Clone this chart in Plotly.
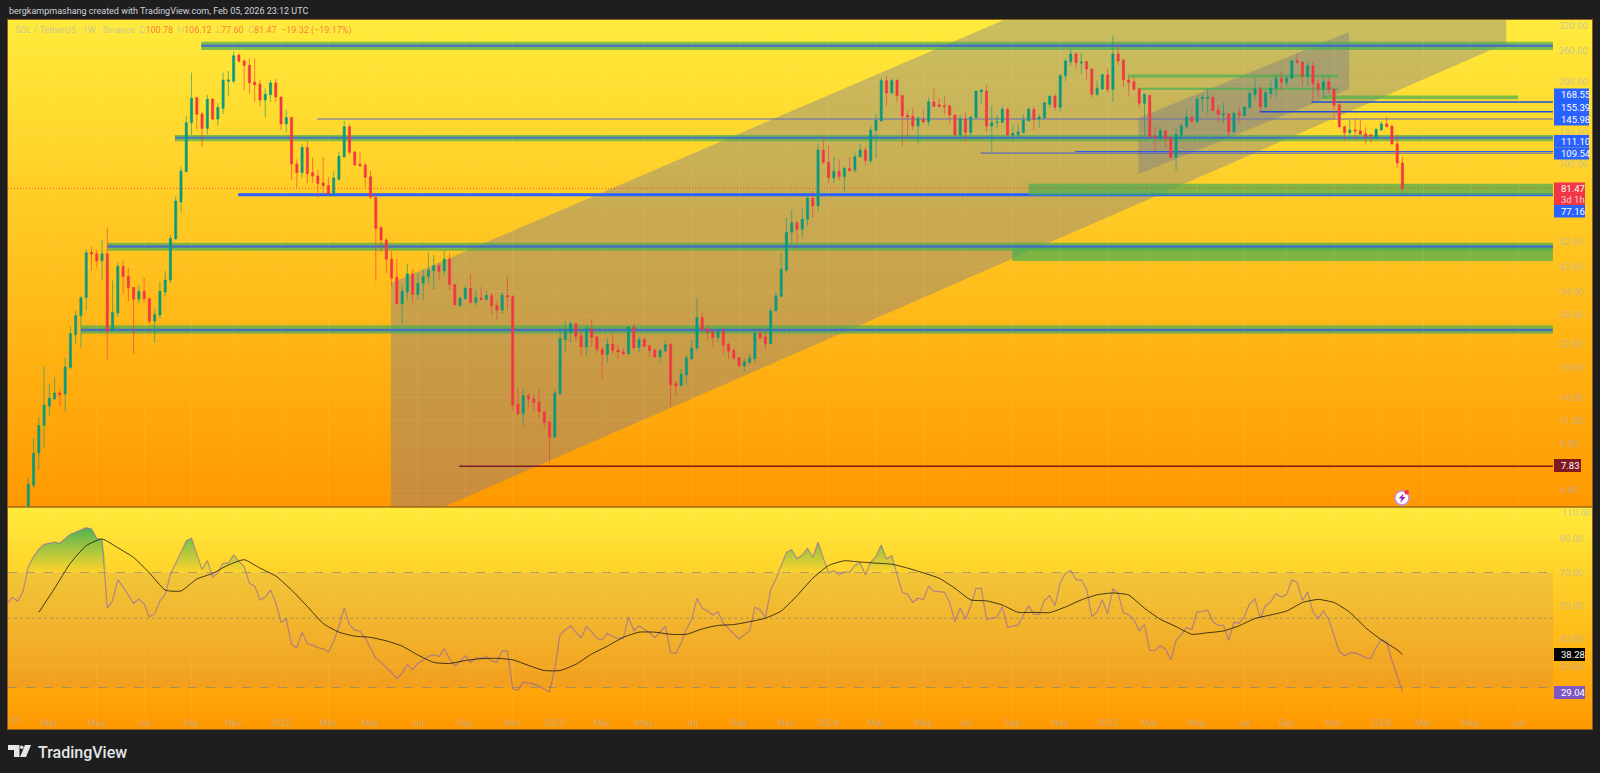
import base64
import math

import pandas as pd
import plotly.graph_objects as go

WIDTH, HEIGHT = 1600, 773

# weekly SOL/USDT candles
opens = [
    4.97, 6.67, 8.75, 11.05, 13.0, 13.8, 14.5, 14.4, 18.0, 23.7,
    27.8, 32.4, 47.5, 46.9, 44.2, 46.9, 24.5, 28.5, 42.2, 38.7,
    35.3, 32.0, 34.2, 32.2, 26.6, 28.0, 34.0, 37.6, 53.3, 72.6,
    93.6, 141.5, 175, 152.5, 135, 173, 146, 160, 201, 201,
    250.6, 238.4, 230, 199.7, 196, 171.5, 179.3, 198, 176, 140.2,
    148, 100, 93, 115, 93, 90.3, 85.3, 83.5, 77.7, 88,
    106, 137, 110.6, 100, 99.1, 89.8, 75.5, 58.6, 52.7, 44.9,
    38.5, 30.7, 34, 39.6, 33.3, 36.6, 38.7, 40.7, 42.4, 40.6,
    44.8, 36.2, 30.3, 32.1, 35, 31.1, 32.4, 31.9, 33, 30.3,
    29.2, 33, 32.7, 13.2, 12.2, 14.2, 13.8, 13.45, 12.4, 11.35,
    10, 14.4, 22.8, 24.2, 26, 23.5, 21.4, 24.9, 23.3, 21,
    20.1, 21.9, 20.85, 20.5, 20.15, 25.3, 21.3, 22.8, 21.6, 20.85,
    19.65, 20.7, 21.9, 15.7, 15.45, 16.9, 19.35, 21.2, 27.4, 24.9,
    24.35, 23.15, 24.35, 21.9, 20.8, 19.6, 18.25, 18.75, 19.35, 24,
    23.3, 21.95, 29, 32.75, 40.9, 56.2, 60.9, 57.7, 62.7, 74.9,
    70.3, 112.4, 101.4, 89, 93.9, 89.9, 96.4, 95, 106.2, 112.4,
    102.8, 132.7, 143.6, 201.8, 182, 203, 178, 150.6, 149.5, 137.8,
    145.6, 142.5, 168.6, 164.8, 163.5, 163.2, 151.1, 127.7, 146, 130.6,
    147.9, 183.7, 185, 137.8, 141.6, 142, 158.5, 127.7, 128.5, 130.6,
    144, 158.5, 146.3, 147.5, 165.4, 177, 161.3, 210, 236.8, 252.7,
    234.2, 236.8, 222.6, 180, 188.3, 212, 187.6, 252.7, 240.2, 203,
    200.2, 188.3, 166.8, 178.3, 126.6, 125.1, 132.4, 125.1, 105.9, 127.7,
    137, 148.5, 142.7, 173.4, 174, 175.5, 157.6, 151.1, 152.6, 131.2,
    153.4, 150, 161, 180, 188.3, 161.5, 181.3, 189.4, 206, 199,
    206, 238.8, 236, 209.9, 229, 196.6, 187.6, 200.2, 188, 164.8,
    137, 130.2, 133.1, 132.4, 128.9, 127.7, 124.2, 133.1, 140.2, 137.8,
    118.6, 100.78,
]
highs = [
    7.13, 9.95, 11.85, 18.2, 15.65, 16.6, 15.0, 19.5, 25.5, 29.0,
    33.0, 48.7, 50.0, 48.8, 52.7, 58.4, 37.4, 43.6, 44.2, 41.7,
    35.3, 36.0, 38.3, 32.2, 29.6, 37.1, 40.6, 55.0, 76.1, 97.7,
    150, 216, 175, 155, 179, 174, 167.5, 216, 219, 259,
    252.7, 242, 243.4, 243.4, 203, 189, 203, 204.7, 176, 157.6,
    149, 104, 118.3, 121.5, 105.4, 95, 106, 89.4, 94.2, 111,
    144, 139.5, 111.5, 110.9, 101.1, 94.4, 77.7, 59, 53.6, 48,
    44.9, 36, 43, 41.3, 39.8, 41.1, 47.3, 46.4, 43.3, 48.4,
    47.1, 36.4, 32.7, 36, 39.7, 34.7, 35.5, 34.3, 33.7, 31.5,
    34, 38.7, 33.1, 15.1, 15, 14.5, 14.4, 15, 12.4, 11.5,
    14.9, 25, 26.6, 26.7, 26.2, 24.5, 25.6, 27, 23.4, 21.4,
    23, 23.9, 21.7, 21.1, 25.5, 26, 23.4, 23.2, 21.8, 21.1,
    21.1, 22.5, 22.1, 16.2, 17.75, 20, 22.7, 32.25, 28.5, 25.65,
    24.9, 25.35, 25.35, 22.1, 21.1, 19.6, 19.5, 20.2, 24.5, 24.85,
    24.35, 30, 34, 46.9, 63.7, 68.2, 62, 69.4, 76.2, 79.6,
    118.3, 126.9, 117.3, 105.9, 104, 97.5, 105.9, 109.3, 118.3, 115.5,
    138.2, 152.6, 206.5, 210.4, 206.5, 203, 178, 156.7, 159.9, 149.5,
    159.9, 175.5, 189.4, 174.4, 177.2, 164.8, 152.2, 151.1, 155, 149.5,
    185, 188.4, 194, 163.5, 151.1, 163.5, 159.9, 138.9, 140.2, 152.2,
    161, 162.3, 152.2, 167.6, 179, 181, 214, 243.4, 263, 256.9,
    254.8, 238.5, 224.2, 201.8, 214, 224.2, 295, 272, 241.6, 208.6,
    208.6, 189.4, 180, 179, 136.9, 136.9, 133.1, 125.1, 135, 141,
    157.6, 151.1, 178, 180, 189.4, 178, 164.8, 167.6, 152.6, 155,
    161.5, 163.2, 185.5, 207.5, 192.3, 186.5, 204.2, 212, 217.7, 212,
    240.2, 252.7, 236.8, 236.8, 236.8, 203, 208.6, 207.4, 189.4, 171.5,
    137.8, 144.8, 147, 145.6, 136.4, 128.9, 135, 143.6, 149.5, 137.8,
    128.5, 106.12,
]
lows = [
    4.76, 6.51, 7.58, 9.15, 12.0, 13.7, 13.0, 12.4, 17.7, 21.9,
    21.2, 29.0, 40.7, 41.5, 37.6, 19.3, 24.5, 27.5, 33.6, 31.5,
    20.2, 30.8, 31.1, 25.9, 22.2, 27.1, 32.6, 36.6, 52.7, 66.3,
    127.7, 127.7, 134, 115.5, 128.5, 144.8, 138, 152.5, 177, 197.5,
    235.4, 186.5, 181, 169, 162.3, 148.3, 169, 168, 133, 130.5,
    87.3, 81.5, 89.2, 85, 85.3, 75.5, 78, 76.9, 76.9, 86.7,
    106, 108, 98.5, 97.6, 82.2, 74.4, 37.4, 47.6, 40, 35.7,
    30.7, 26, 31.8, 31.1, 31.8, 31.8, 36.6, 34.7, 37.6, 39.2,
    34.3, 30.5, 30, 31.8, 31, 30, 31.6, 31.6, 27.9, 27,
    28.2, 29.2, 12.5, 12, 11, 12.85, 12.4, 11.8, 10.9, 8.0,
    10, 14.4, 20.4, 22.4, 22.5, 19.7, 19.8, 21.4, 20.2, 16.1,
    18.8, 20.2, 19.4, 20, 20.1, 20.8, 20.4, 21.4, 19.7, 19.5,
    18.7, 20.4, 12.9, 14.2, 15.45, 15.55, 19.2, 20.65, 24.35, 22.8,
    21.4, 22.3, 20.1, 19.3, 19.2, 17.85, 17.35, 18.65, 18.8, 22.8,
    21, 21.95, 28.8, 32.75, 39.8, 51.2, 51.5, 53.7, 59.2, 63.7,
    67.2, 100, 85, 85, 87.3, 79.2, 93.6, 93, 105.9, 99.1,
    100.6, 105, 143.6, 162.3, 181, 167.6, 115.6, 125.7, 133.1, 118.9,
    141.8, 137.8, 162.3, 162.3, 152.6, 140, 127.7, 122.4, 120.7, 127.7,
    147.9, 165.6, 131.2, 110.9, 135, 141, 127.7, 120.7, 125.7, 129.4,
    142.5, 133.1, 136, 147.5, 159.9, 156.7, 155.4, 200, 230, 223,
    214, 203, 175.1, 177, 186.5, 182, 168.6, 230, 192, 176.3,
    186.5, 160.9, 127.7, 125.7, 112.4, 121.6, 115.6, 105, 95, 124.2,
    135, 141, 141, 155.4, 153, 156.7, 141.8, 141, 125.7, 131.2,
    141, 149.5, 159.9, 171.5, 155.4, 161.5, 174.1, 175.5, 186.5, 192,
    204.2, 230, 192, 193, 168.7, 174, 176.3, 181, 145.6, 135,
    121.6, 127.7, 122.4, 127.7, 117.6, 119.7, 123.2, 132.4, 137, 117.6,
    96.4, 77.60,
]
closes = [
    6.73, 8.73, 11.05, 13.1, 13.9, 14.5, 14.3, 18.05, 23.9, 27.9,
    32.4, 47.3, 46.8, 44.2, 46.9, 24.5, 28.6, 42.2, 38.7, 35.2,
    32.0, 34.2, 32.1, 26.6, 28.1, 34.2, 37.6, 53.4, 73.2, 94.2,
    141.5, 174, 152, 135, 172.5, 146, 161, 203, 203, 249,
    237.8, 229.4, 198.5, 195, 171.5, 180, 198, 176, 140.2, 148,
    100, 93, 115, 92.2, 90.3, 84.8, 83.3, 77.7, 88.8, 106.8,
    137, 110.3, 99.3, 98.5, 89.5, 75.7, 58, 52.7, 44.8, 38.3,
    30.7, 34.2, 39.6, 33.3, 36.6, 38.7, 40.9, 42.4, 40.5, 44.8,
    36.2, 30.5, 32.2, 35, 31.1, 32.4, 31.9, 33, 30.3, 29.2,
    33.1, 32.6, 13.1, 12.2, 14.2, 13.8, 13.4, 12.4, 11.3, 10,
    14.5, 23, 24.3, 26, 23.4, 21.4, 24.9, 23.2, 21, 20.1,
    21.9, 20.8, 20.5, 20.15, 25.3, 21.3, 22.8, 21.5, 20.8, 19.65,
    20.75, 21.8, 15.55, 15.4, 17, 19.5, 21.2, 27.4, 24.7, 24.2,
    23.15, 24.35, 21.75, 20.65, 19.5, 18.25, 18.9, 19.5, 24, 23.1,
    21.95, 29, 32.9, 41.15, 56.3, 60.9, 57.7, 62.8, 74.9, 70.3,
    112.4, 101.4, 89, 93.9, 89.9, 96.4, 94.4, 106.2, 112.4, 103.1,
    132.9, 144.8, 201.8, 182, 201.8, 178, 149.7, 148.5, 137.8, 147,
    142.5, 168.6, 162.3, 162.3, 162.3, 151.1, 127.7, 146, 130.6, 148.5,
    185, 186.5, 137.8, 141.6, 142.5, 158.5, 127.7, 129.4, 131.2, 144.8,
    159, 145.6, 148.5, 167.6, 177, 161.3, 210.3, 238, 252.7, 234.8,
    236, 222.6, 180, 189.2, 212, 187.6, 252.7, 238.6, 203, 199,
    187.6, 166.8, 180, 125.7, 125.1, 132.4, 123.4, 105.9, 128.5, 137.8,
    148.5, 143.3, 172.5, 175.5, 175.5, 156.7, 152.2, 152.6, 131.2, 153.4,
    151.1, 161.5, 181, 188.3, 161.5, 182.3, 189.4, 206, 199.6, 206,
    238.8, 235.6, 209.9, 229, 196.6, 187.6, 200.2, 187.6, 163.7, 137,
    130.2, 133.1, 132, 128.5, 125.7, 126.6, 134, 140.2, 137, 118.6,
    100.8, 81.47,
]

# RSI starts four weeks before the first visible candle
rsi = [
    55.8, 58.3, 56.6, 60.8, 73.1, 78.7, 83.2, 86.1, 86.8, 87.5,
    86.8, 90, 92.8, 94.1, 95.5, 97.4, 96.4, 90, 89, 53.8,
    56.8, 66.3, 63, 59.3, 55.8, 57.6, 55.5, 50.4, 51.8, 56.8,
    59.6, 69, 75, 80.6, 88.3, 90.2, 79.6, 71.5, 76.5, 67.7,
    69.8, 75, 75, 79.6, 76, 73.1, 64.6, 63.3, 57.2, 58.3,
    61.5, 56.1, 48.5, 49.7, 41.2, 40.2, 45.1, 41.4, 41, 40.2,
    39.9, 39, 42.1, 47, 53.8, 47.7, 45.8, 45.5, 43.1, 40,
    37.2, 36.1, 34.9, 33.5, 32, 33.4, 35.5, 34.2, 35.9, 36.8,
    37.7, 38.2, 37.7, 39.9, 37, 35.2, 36.3, 37.9, 36.1, 37.3,
    37.2, 37.7, 36.5, 36.1, 39.3, 39.3, 29.7, 29.4, 31.2, 31,
    30.8, 30.3, 29.7, 29, 34.6, 44.4, 45.8, 47.3, 45, 43.3,
    47, 45.2, 43.1, 42.6, 44.7, 43.7, 43.1, 43.1, 50.4, 45.6,
    47.3, 46.2, 44.9, 43.3, 45.1, 47.1, 38.7, 38.6, 41.6, 46.2,
    49.4, 57.9, 53.8, 52.8, 51.2, 52.5, 48.1, 46.4, 44.7, 42.9,
    44.2, 45.5, 54.2, 53.1, 50.2, 61.5, 66.7, 74, 81.2, 82.8,
    77.4, 79.6, 83.6, 78.3, 87.5, 77.8, 69.8, 70.9, 68.8, 70.2,
    70.2, 73.9, 75, 68.7, 75.6, 78.7, 85.7, 77.4, 79.2, 69,
    60.5, 59.6, 56.2, 57.9, 57.4, 63.2, 61, 60.8, 60.5, 56.2,
    48.7, 53.9, 49.6, 54.7, 62.3, 62.3, 49.5, 50, 50.4, 54.5,
    46.7, 47.2, 47.5, 51.2, 54.7, 51.4, 51.5, 56.9, 59.1, 54.7,
    64.9, 69.5, 71.1, 66.3, 66.3, 62, 50.6, 52.4, 57.2, 51.5,
    62, 60, 52, 51.3, 49.4, 45.6, 47.7, 39.4, 39.4, 40.8,
    39.8, 36.8, 42.4, 44.4, 46.7, 46, 52.4, 52.5, 53, 48.7,
    47.4, 47.4, 42.5, 48.5, 48.2, 50.8, 55.8, 57.6, 50, 54.8,
    56.6, 59.9, 58.3, 59.6, 66.3, 65.1, 56.9, 60.6, 52.2, 49.9,
    52.7, 49.4, 43.9, 39.2, 37.9, 38.7, 38.8, 38.2, 37.4, 37.1,
    40.3, 42.8, 41.8, 36.6, 32.5, 29.04,
]

# RSI moving average, read every third week from 2021-02-15
rsi_ma = [
    52.2, 62.3, 75, 85.3, 89.6, 84, 78.2, 69.8, 61.5, 61.1,
    66.7, 69.5, 74, 76.9, 72.3, 68.2, 61.5, 54.5, 48.1, 45.1,
    43.8, 43.4, 42.3, 40.7, 38.1, 36.1, 35.8, 36.6, 37.1, 37.2,
    36.8, 35.3, 34, 34, 35.6, 38.4, 40.7, 43.4, 45.1, 45.1,
    44.4, 44.4, 46.2, 47.4, 47.7, 48.7, 50, 52.7, 59, 67.1,
    73.7, 76.3, 75.6, 75, 74.4, 72.3, 69.8, 67.1, 62.3, 57.2,
    56.8, 55.1, 52.2, 52.2, 52.1, 54.3, 57.2, 59.4, 60.2, 59.3,
    53.8, 49.6, 47, 44.4, 44.9, 45.5, 47.3, 49.9, 51.2, 52.7,
    56.1, 57.4, 56.1, 52.2, 46.6, 42.6, 39.6, 38.28,
]

price_ticks = [320, 260, 200, 130, 100, 52, 42, 34, 28, 22, 18, 14, 11.5, 9.5, 6.4]
rsi_ticks = [90, 70, 55, 43, 35]

time_tick_dates = [
    "2021-01-11", "2021-03-01", "2021-05-03", "2021-07-05", "2021-09-06", "2021-11-01",
    "2022-01-03", "2022-03-07", "2022-05-02", "2022-07-04", "2022-09-05", "2022-11-07",
    "2023-01-02", "2023-03-06", "2023-05-01", "2023-07-03", "2023-09-04", "2023-11-06",
    "2024-01-01", "2024-03-04", "2024-05-06", "2024-07-01", "2024-09-02", "2024-11-04",
    "2025-01-06", "2025-03-03", "2025-05-05", "2025-07-07", "2025-09-01", "2025-11-03",
    "2026-01-05", "2026-03-02", "2026-05-04", "2026-07-06",
]
time_tick_labels = [
    "21", "Mar", "May", "Jul", "Sep", "Nov",
    "2022", "Mar", "May", "Jul", "Sep", "Nov",
    "2023", "Mar", "May", "Jul", "Sep", "Nov",
    "2024", "Mar", "May", "Jul", "Sep", "Nov",
    "2025", "Mar", "May", "Jul", "Sep", "Nov",
    "2026", "Mar", "May", "Jul",
]

# drawings on the price pane: start date, end date, upper price, lower price
END = "2026-08-21"
green_zones = [
    ("2021-09-19", END, 280.3, 261.4),
    ("2021-08-15", END, 127.7, 121.2),
    ("2021-05-17", END, 51.5, 48.1),
    ("2021-04-12", END, 25.7, 23.9),
    ("2024-09-23", END, 84.6, 76.8),
    ("2024-09-01", END, 50.2, 44.1),
    ("2025-02-02", "2025-11-09", 212.5, 207.3),
    ("2025-02-16", "2025-11-09", 190.3, 186.5),
    ("2025-10-19", "2026-07-06", 178, 172.7),
]
# start date, price, colour, width
price_lines = [
    ("2021-09-19", 270.7, "rgba(60,90,230,0.75)", 2.5),
    ("2021-08-15", 124.7, "rgba(60,90,230,0.75)", 2),
    ("2021-05-17", 49.9, "rgba(60,90,230,0.75)", 2.5),
    ("2021-04-12", 24.7, "rgba(60,90,230,0.75)", 2.5),
    ("2021-11-07", 77.16, "#2962ff", 3),
    ("2025-10-04", 168.55, "#1c4fd8", 1.5),
    ("2025-07-27", 155.39, "#1c4fd8", 1.5),
    ("2022-02-20", 145.98, "rgba(110,115,180,0.75)", 1.5),
    ("2024-11-24", 111.10, "#2a5be0", 1.2),
    ("2024-07-21", 109.54, "rgba(70,95,200,0.85)", 1.2),
    ("2022-08-28", 7.83, "#801922", 1.5),
]
channel_dates = ["2022-05-29", "2024-08-21", "2026-06-20", "2026-06-20", "2022-08-07", "2022-05-29"]
channel_prices = [36.6, 336.6, 336.6, 276.8, 5.55, 5.55]
inner_channel_dates = ["2025-02-16", "2025-11-23", "2025-11-23", "2025-02-16"]
inner_channel_prices = [147.3, 304, 188, 91.9]


def px(x):
    return x / WIDTH


def py(y):
    return 1 - y / HEIGHT


def gradient_image():
    svg = (
        '<svg xmlns="http://www.w3.org/2000/svg" width="10" height="10" viewBox="0 0 10 10" '
        'preserveAspectRatio="none"><defs><linearGradient id="g" x1="0" y1="0" x2="0" y2="1">'
        '<stop offset="0" stop-color="#ffeb3b"/><stop offset="1" stop-color="#ff9800"/>'
        '</linearGradient></defs><rect width="10" height="10" fill="url(#g)"/></svg>'
    )
    return "data:image/svg+xml;base64," + base64.b64encode(svg.encode()).decode()


def pad_tick(value):
    # labels are left aligned in the reference, two nbsp is about one digit
    text = f"{value:.2f}"
    return text + "\u00a0\u00a0" * (6 - len(text))


def path_from(dates, prices):
    points = [f"{d},{p}" for d, p in zip(dates, prices)]
    return "M " + " L ".join(points) + " Z"


def price_tag(fig, text, x0, x1, y0, y1, color, font_color="white"):
    fig.add_shape(type="rect", xref="paper", yref="paper", x0=px(x0), x1=px(x1), y0=py(y0), y1=py(y1),
                  fillcolor=color, line_width=0, layer="above")
    fig.add_annotation(text=text, xref="paper", yref="paper", x=px(x0 + 5), y=py((y0 + y1) / 2),
                       xanchor="left", yanchor="middle", showarrow=False,
                       font=dict(family=FONT, size=9.5, color=font_color))


assert len(opens) == len(highs) == len(lows) == len(closes) == 262, (len(opens), len(highs), len(lows), len(closes))
assert len(rsi) == 266, len(rsi)
assert len(rsi_ma) == 88, len(rsi_ma)

FONT = "Roboto"
AXIS_TEXT = "rgba(172,176,196,0.62)"
GRID = "rgba(255,255,255,0.06)"
FRAME = "rgba(165,110,25,0.8)"

candle_dates = pd.date_range("2021-02-01", periods=len(closes), freq="7D")
rsi_dates = pd.date_range("2021-01-04", periods=len(rsi), freq="7D")
ma_dates = list(candle_dates[2::3]) + [candle_dates[-1]]

fig = go.Figure()

fig.add_trace(go.Candlestick(
    x=candle_dates, open=opens, high=highs, low=lows, close=closes,
    xaxis="x", yaxis="y", whiskerwidth=0, hoverinfo="skip", showlegend=False,
    increasing=dict(line=dict(color="rgba(8,153,129,0.6)", width=1), fillcolor="#089981"),
    decreasing=dict(line=dict(color="rgba(242,54,69,0.6)", width=1), fillcolor="#f23645"),
))

# green shading where RSI sits above 70
fig.add_trace(go.Scatter(x=rsi_dates, y=[70] * len(rsi), xaxis="x2", yaxis="y2", mode="lines",
                         line=dict(width=0), hoverinfo="skip", showlegend=False))
fig.add_trace(go.Scatter(
    x=rsi_dates, y=[max(v, 70) for v in rsi], xaxis="x2", yaxis="y2", mode="lines",
    line=dict(width=0), fill="tonexty", hoverinfo="skip", showlegend=False,
    fillgradient=dict(type="vertical", start=97, stop=70,
                      colorscale=[[0, "rgba(76,175,80,0.95)"], [1, "rgba(76,175,80,0)"]]),
))
fig.add_trace(go.Scatter(x=rsi_dates, y=rsi, xaxis="x2", yaxis="y2", mode="lines",
                         line=dict(color="rgba(126,87,194,0.55)", width=1.2),
                         hoverinfo="skip", showlegend=False))
fig.add_trace(go.Scatter(x=ma_dates, y=rsi_ma, xaxis="x2", yaxis="y2", mode="lines",
                         line=dict(color="rgba(20,20,10,0.8)", width=1, shape="spline", smoothing=0.5),
                         hoverinfo="skip", showlegend=False))

shapes = []
shapes.append(dict(type="path", xref="x", yref="y", layer="below",
                   path=path_from(channel_dates, channel_prices),
                   fillcolor="rgba(120,123,150,0.4)", line_width=0))
shapes.append(dict(type="path", xref="x", yref="y", layer="below",
                   path=path_from(inner_channel_dates, inner_channel_prices),
                   fillcolor="rgba(120,123,134,0.4)", line_width=0))
for line_start, price, color, width in price_lines[4:5]:
    shapes.append(dict(type="line", xref="x", yref="y", layer="below", x0=line_start, x1=END,
                       y0=price, y1=price, line=dict(color=color, width=width)))
for start, stop, top, bottom in green_zones:
    shapes.append(dict(type="rect", xref="x", yref="y", layer="below", x0=start, x1=stop, y0=bottom, y1=top,
                       fillcolor="rgba(76,175,80,0.72)", line_width=0))
for line_start, price, color, width in price_lines[:4] + price_lines[5:]:
    shapes.append(dict(type="line", xref="x", yref="y", layer="below", x0=line_start, x1=END,
                       y0=price, y1=price, line=dict(color=color, width=width)))

# last price
shapes.append(dict(type="line", xref="paper", yref="y", layer="above", x0=px(8), x1=px(1553),
                   y0=closes[-1], y1=closes[-1], line=dict(color="rgba(242,54,69,0.8)", width=1, dash="1px,2px")))

# RSI band and levels
shapes.append(dict(type="rect", xref="paper", yref="y2", layer="below", x0=px(8), x1=px(1553), y0=30, y1=70,
                   fillcolor="rgba(126,87,194,0.1)", line_width=0))
for level, dash, width in [(70, "dash", 1.2), (50, "dot", 1), (30, "dash", 1.2)]:
    shapes.append(dict(type="line", xref="paper", yref="y2", layer="below", x0=px(8), x1=px(1553),
                       y0=level, y1=level, line=dict(color="rgba(120,123,134,0.6)", width=width, dash=dash)))

fig.update_layout(
    width=WIDTH, height=HEIGHT,
    margin=dict(l=0, r=0, t=0, b=0),
    paper_bgcolor="#1e1e1e", plot_bgcolor="rgba(0,0,0,0)",
    showlegend=False, hovermode=False, boxgap=0.42,
    font=dict(family=FONT, color=AXIS_TEXT, size=11),
    shapes=shapes,
    images=[
        dict(source=gradient_image(), xref="paper", yref="paper", x=px(8), y=py(20), sizex=px(1584),
             sizey=487 / HEIGHT, sizing="stretch", xanchor="left", yanchor="top", layer="below"),
        dict(source=gradient_image(), xref="paper", yref="paper", x=px(8), y=py(507), sizex=px(1584),
             sizey=222 / HEIGHT, sizing="stretch", xanchor="left", yanchor="top", layer="below"),
    ],
    xaxis=dict(domain=[px(8), px(1592)], range=["2021-01-05", "2026-10-12"], anchor="y", matches="x2",
               rangeslider=dict(visible=False), showticklabels=False, ticks="",
               tickvals=time_tick_dates, showgrid=True, gridcolor=GRID, zeroline=False,
               showline=True, mirror=True, linecolor=FRAME),
    yaxis=dict(domain=[py(507), py(20)], type="log", range=[math.log10(5.55), math.log10(336.6)],
               anchor="x", side="right", ticklabelposition="inside", ticks="", ticklabelstandoff=3,
               tickvals=price_ticks, ticktext=[pad_tick(v) for v in price_ticks],
               tickfont=dict(family=FONT, size=9.5, color=AXIS_TEXT),
               showgrid=True, gridcolor=GRID, zeroline=False,
               showline=True, mirror=True, linecolor=FRAME),
    xaxis2=dict(domain=[px(8), px(1592)], range=["2021-01-05", "2026-10-12"], anchor="y2",
                tickvals=time_tick_dates[1:], ticktext=time_tick_labels[1:], ticklabelposition="inside", ticks="",
                tickfont=dict(family=FONT, size=9.5, color=AXIS_TEXT),
                showgrid=True, gridcolor=GRID, zeroline=False,
                showline=True, mirror=True, linecolor=FRAME),
    yaxis2=dict(domain=[py(729), py(507)], type="log", range=[math.log10(22.1), math.log10(113.4)],
                anchor="x2", side="right", ticklabelposition="inside", ticks="", ticklabelstandoff=3,
                tickvals=rsi_ticks, ticktext=[pad_tick(v) for v in rsi_ticks],
                tickfont=dict(family=FONT, size=9.5, color=AXIS_TEXT),
                showgrid=True, gridcolor=GRID, zeroline=False,
                showline=True, mirror=True, linecolor=FRAME),
)

# tick labels that plotly drops for sitting too close to the pane edge
for text, x, y in [("110.00", 1560, 512), (time_tick_labels[0], 8, 719)]:
    fig.add_annotation(text=text, xref="paper", yref="paper", x=px(x), y=py(y), xanchor="left", yanchor="middle",
                       showarrow=False, font=dict(family=FONT, size=9.5, color=AXIS_TEXT))

# header line and symbol legend
fig.add_annotation(text="bergkampmashang created with TradingView.com, Feb 05, 2026 23:12 UTC",
                   xref="paper", yref="paper", x=px(7), y=py(11), xanchor="left", yanchor="middle",
                   showarrow=False, font=dict(family=FONT, size=9, color="#d1d4dc"))
red = "#f23645"
legend_text = (
    f'SOL / TetherUS · 1W · Binance&nbsp;&nbsp;O<span style="color:{red}">100.78</span>&nbsp;&nbsp;'
    f'H<span style="color:{red}">106.12</span>&nbsp;&nbsp;L<span style="color:{red}">77.60</span>&nbsp;&nbsp;'
    f'C<span style="color:{red}">81.47</span>&nbsp;&nbsp;<span style="color:{red}">−19.32 (−19.17%)</span>'
)
fig.add_annotation(text=legend_text, xref="paper", yref="paper", x=px(13), y=py(30.5), xanchor="left",
                   yanchor="middle", showarrow=False, font=dict(family=FONT, size=9, color=AXIS_TEXT))

# price scale tags, the reference shifts them apart so they do not follow the axis exactly
price_tag(fig, "168.55", 1554, 1589, 88.5, 101, "#2962ff")
price_tag(fig, "155.39", 1554, 1589, 101, 113, "#2962ff")
price_tag(fig, "145.98", 1554, 1589, 113, 125.5, "#2962ff")
price_tag(fig, "111.10", 1554, 1589, 135, 147.5, "#2962ff")
price_tag(fig, "109.54", 1554, 1589, 147.5, 159.5, "#2962ff")
price_tag(fig, "81.47", 1554, 1585, 182.5, 194, "#f23645")
price_tag(fig, "3d 1h", 1554, 1585, 194, 205, "#f23645", "rgba(255,255,255,0.75)")
price_tag(fig, "77.16", 1554, 1585, 205, 217.5, "#2962ff")
price_tag(fig, "7.83", 1554, 1581, 459, 472, "#801922")
price_tag(fig, "38.28", 1554, 1585, 648, 661, "#000000")
price_tag(fig, "29.04", 1554, 1585, 686, 699, "#7e57c2")

# small alert badge near the last candle
fig.add_shape(type="circle", xref="paper", yref="paper", x0=px(1395), x1=px(1409), y0=py(505), y1=py(491),
              fillcolor="#ffffff", line=dict(color="#c58be8", width=1.5), layer="above")
fig.add_shape(type="path", xref="paper", yref="paper", layer="above", fillcolor="#9c27b0", line_width=0,
              path=f"M {px(1403.5)},{py(493.5)} L {px(1398.5)},{py(498.5)} L {px(1401.5)},{py(498.5)} "
                   f"L {px(1400)},{py(503)} L {px(1405.5)},{py(497)} L {px(1402.5)},{py(497)} Z")
fig.add_shape(type="circle", xref="paper", yref="paper", x0=px(1404.5), x1=px(1409), y0=py(494.5), y1=py(490),
              fillcolor="#f23645", line_width=0, layer="above")

# TradingView logo
logo = "#e6e6e6"
fig.add_shape(type="path", xref="paper", yref="paper", fillcolor=logo, line_width=0, layer="above",
              path=f"M {px(8)},{py(745)} L {px(19.5)},{py(745)} L {px(19.5)},{py(757)} L {px(14)},{py(757)} "
                   f"L {px(14)},{py(750)} L {px(8)},{py(750)} Z")
fig.add_shape(type="circle", xref="paper", yref="paper", fillcolor=logo, line_width=0, layer="above",
              x0=px(20), x1=px(23.5), y0=py(749), y1=py(745.5))
fig.add_shape(type="path", xref="paper", yref="paper", fillcolor=logo, line_width=0, layer="above",
              path=f"M {px(25)},{py(745)} L {px(31)},{py(745)} L {px(26)},{py(757)} L {px(20)},{py(757)} Z")
fig.add_annotation(text="TradingView", xref="paper", yref="paper", x=px(35.5), y=py(752), xanchor="left",
                   yanchor="middle", showarrow=False, font=dict(family=FONT, size=16, color=logo, weight=500))

# drop the browser's default body margin so the figure sits at the page corner
fig.write_html("out.html", config={"displayModeBar": False},
               post_script="document.body.style.margin='0';document.body.style.background='#1e1e1e';")
